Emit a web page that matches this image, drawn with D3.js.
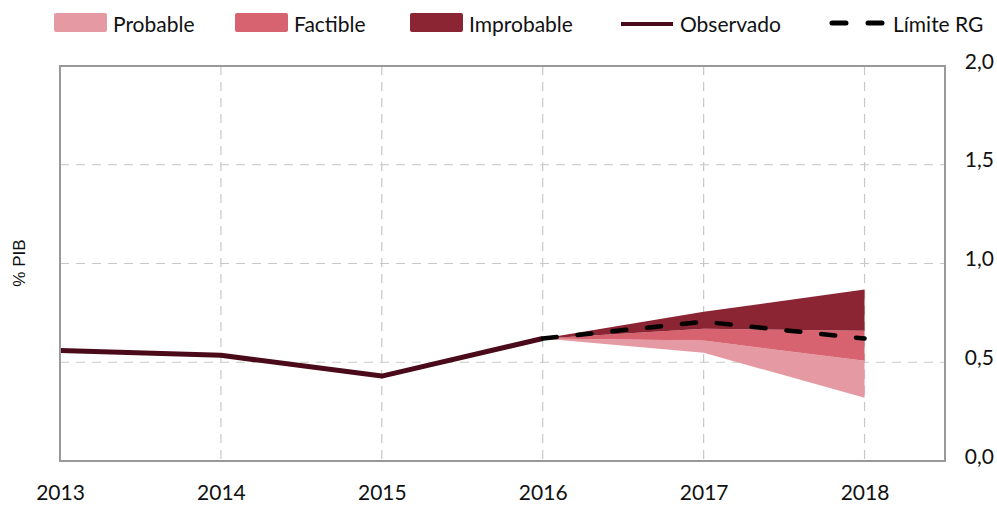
<!DOCTYPE html>
<html>
<head>
<meta charset="utf-8">
<script src="https://cdn.jsdelivr.net/npm/d3@7"></script>
<style>
  body { margin: 0; background: #fff; }
  text { font-family: Lato, sans-serif; fill: #111; }
</style>
</head>
<body>
<div class="chart"></div>
<script>
// chart data
var years = [2013, 2014, 2015, 2016];
var observado = [0.56, 0.535, 0.43, 0.62];

var fanYears = [2016, 2017, 2018];
var probableLow = [0.62, 0.548, 0.32];
var probableHigh = [0.62, 0.61, 0.507];
var factibleHigh = [0.62, 0.67, 0.66];
var improbableHigh = [0.62, 0.756, 0.868];
var limiteRG = [0.62, 0.705, 0.62];

var xTicks = [2013, 2014, 2015, 2016, 2017, 2018];
var yTicks = [0, 0.5, 1, 1.5, 2];

var legendItems = [
  { label: "Probable", type: "box", color: "#e59aa3" },
  { label: "Factible", type: "box", color: "#d6636f" },
  { label: "Improbable", type: "box", color: "#8c2533" },
  { label: "Observado", type: "line", color: "#4a0a1a" },
  { label: "Límite RG", type: "dash", color: "#000" }
];

var svgWidth = 997;
var svgHeight = 506;

var margin = { top: 66, right: 52, bottom: 45, left: 60 };
var width = svgWidth - margin.left - margin.right;
var height = svgHeight - margin.top - margin.bottom;

var svg = d3.select(".chart")
  .append("svg")
  .attr("width", svgWidth)
  .attr("height", svgHeight);

var chartGroup = svg.append("g")
  .attr("transform", `translate(${margin.left}, ${margin.top})`);

var xScale = d3.scaleLinear().domain([2013, 2018.5]).range([0, width]);
var yScale = d3.scaleLinear().domain([0, 2]).range([height, 0]);

// gridlines
chartGroup.selectAll(".vgrid")
  .data(xTicks.slice(1))
  .enter().append("line")
  .attr("x1", d => xScale(d)).attr("x2", d => xScale(d))
  .attr("y1", 0).attr("y2", height)
  .attr("stroke", "#c8c8c8")
  .attr("stroke-width", 1.2)
  .attr("stroke-dasharray", "9,7");

chartGroup.selectAll(".hgrid")
  .data(yTicks.slice(1, -1))
  .enter().append("line")
  .attr("x1", 0).attr("x2", width)
  .attr("y1", d => yScale(d)).attr("y2", d => yScale(d))
  .attr("stroke", "#c8c8c8")
  .attr("stroke-width", 1.2)
  .attr("stroke-dasharray", "9,7");

// fan bands
function band(low, high) {
  return d3.area()
    .x((d, i) => xScale(fanYears[i]))
    .y0((d, i) => yScale(low[i]))
    .y1((d, i) => yScale(high[i]))(fanYears);
}
chartGroup.append("path").attr("d", band(probableLow, probableHigh)).attr("fill", legendItems[0].color);
chartGroup.append("path").attr("d", band(probableHigh, factibleHigh)).attr("fill", legendItems[1].color);
chartGroup.append("path").attr("d", band(factibleHigh, improbableHigh)).attr("fill", legendItems[2].color);

// observed line
chartGroup.append("path")
  .datum(observado)
  .attr("d", d3.line().x((d, i) => xScale(years[i])).y(d => yScale(d)))
  .attr("fill", "none")
  .attr("stroke", "#4a0a1a")
  .attr("stroke-width", 5)
  .attr("stroke-linejoin", "round");

// limite RG
chartGroup.append("path")
  .datum(limiteRG)
  .attr("d", d3.line().x((d, i) => xScale(fanYears[i])).y(d => yScale(d)))
  .attr("fill", "none")
  .attr("stroke", "#000")
  .attr("stroke-width", 4.5)
  .attr("stroke-linecap", "round")
  .attr("stroke-dasharray", "14,21");

// border
chartGroup.append("rect")
  .attr("width", width).attr("height", height)
  .attr("fill", "none")
  .attr("stroke", "#999")
  .attr("stroke-width", 2);

// x axis labels
var xAxis = d3.axisBottom(xScale).tickValues(xTicks).tickFormat(d3.format("d")).tickSize(0).tickPadding(24);
chartGroup.append("g")
  .attr("transform", `translate(0, ${height})`)
  .call(xAxis)
  .call(g => g.select(".domain").remove())
  .selectAll("text")
  .attr("font-family", "Lato, sans-serif")
  .attr("font-size", 21)
  .attr("fill", "#111");

// y axis labels on right
var yAxis = d3.axisRight(yScale).tickValues(yTicks)
  .tickFormat(d => d3.format(".1f")(d).replace(".", ","))
  .tickSize(0).tickPadding(49);
chartGroup.append("g")
  .attr("transform", `translate(${width}, 0)`)
  .call(yAxis)
  .call(g => g.select(".domain").remove())
  .selectAll("text")
  .attr("text-anchor", "end")
  .attr("dy", "0.1em")
  .attr("font-family", "Lato, sans-serif")
  .attr("font-size", 21)
  .attr("fill", "#111");

// y axis title
svg.append("text")
  .attr("transform", "rotate(-90)")
  .attr("x", -263)
  .attr("y", 25)
  .attr("text-anchor", "middle")
  .style("font-family", "'Liberation Sans', Arial, sans-serif")
  .attr("font-size", 17)
  .text("% PIB");

// legend
var legendX = [54, 235, 410, 621, 830];
var legend = svg.selectAll(".legend")
  .data(legendItems)
  .enter().append("g")
  .attr("transform", (d, i) => `translate(${legendX[i]}, 0)`);

legend.filter(d => d.type === "box").append("rect")
  .attr("x", 0).attr("y", 13)
  .attr("width", 53).attr("height", 19)
  .attr("rx", 2)
  .attr("fill", d => d.color);

legend.filter(d => d.type === "line").append("line")
  .attr("x1", 0).attr("x2", 52).attr("y1", 24).attr("y2", 24)
  .attr("stroke", d => d.color).attr("stroke-width", 4);

legend.filter(d => d.type === "dash").append("line")
  .attr("x1", 2).attr("x2", 54).attr("y1", 23).attr("y2", 23)
  .attr("stroke", d => d.color).attr("stroke-width", 5)
  .attr("stroke-linecap", "round")
  .attr("stroke-dasharray", "14,22");

legend.append("text")
  .attr("x", d => d.type === "box" ? 59 : (d.type === "line" ? 59 : 63))
  .attr("y", 32)
  .attr("font-size", 21)
  .text(d => d.label);
</script>
</body>
</html>
